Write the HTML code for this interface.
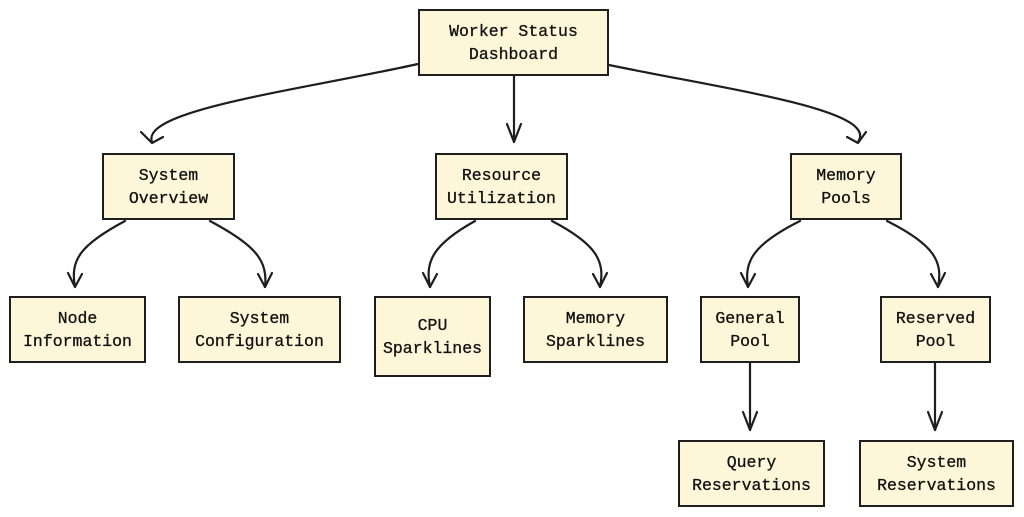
<!DOCTYPE html>
<html><head><meta charset="utf-8"><style>
body{margin:0;background:#fff;width:1024px;height:517px;overflow:hidden}
.b{position:absolute;background:#fdf6d8;border:2px solid #1e1e1e;box-sizing:border-box;display:flex;align-items:center;justify-content:center;text-align:center;font-family:"Liberation Mono",monospace;font-size:16.5px;line-height:23px;color:#111;-webkit-text-stroke:0.3px #111}
svg{position:absolute;left:0;top:0}
</style></head><body>
<svg width="1024" height="517" fill="none" stroke="#1e1e1e" stroke-width="2.2" stroke-linecap="round" stroke-linejoin="round">
<path d="M418 64 C300 90 140 110 152 142"/><path d="M141 132 L152 143 L163 137"/>
<path d="M514 76 L514 142"/><path d="M507 124 L514 142 L521 124"/>
<path d="M609 65 C730 90 880 110 858 142"/><path d="M847 137 L858 143 L866 132"/>
<path d="M125 221 C80 245 70 260 75 287"/><path d="M68 273 L75 287 L82 274"/>
<path d="M210 221 C255 245 268 260 265 287"/><path d="M258 274 L265 287 L272 273"/>
<path d="M475 221 C432 245 425 262 430 287"/><path d="M423 273 L430 287 L437 274"/>
<path d="M552 221 C598 245 605 262 600 287"/><path d="M593 274 L600 287 L607 273"/>
<path d="M800 221 C752 245 744 262 748 287"/><path d="M741 273 L748 287 L755 274"/>
<path d="M887 221 C935 245 943 262 938 287"/><path d="M931 274 L938 287 L945 273"/>
<path d="M750 363 L750 430"/><path d="M743 412 L750 430 L757 412"/>
<path d="M935 363 L935 430"/><path d="M928 412 L935 430 L942 412"/>
</svg>
<div class="b" style="left:418px;top:9px;width:191px;height:67px">Worker Status<br>Dashboard</div>
<div class="b" style="left:102px;top:153px;width:133px;height:67px">System<br>Overview</div>
<div class="b" style="left:435px;top:153px;width:133px;height:67px">Resource<br>Utilization</div>
<div class="b" style="left:790px;top:153px;width:112px;height:67px">Memory<br>Pools</div>
<div class="b" style="left:9px;top:296px;width:137px;height:67px">Node<br>Information</div>
<div class="b" style="left:178px;top:296px;width:163px;height:67px">System<br>Configuration</div>
<div class="b" style="left:374px;top:296px;width:117px;height:81px">CPU<br>Sparklines</div>
<div class="b" style="left:523px;top:296px;width:145px;height:67px">Memory<br>Sparklines</div>
<div class="b" style="left:700px;top:296px;width:100px;height:67px">General<br>Pool</div>
<div class="b" style="left:880px;top:296px;width:111px;height:67px">Reserved<br>Pool</div>
<div class="b" style="left:678px;top:440px;width:147px;height:67px">Query<br>Reservations</div>
<div class="b" style="left:859px;top:440px;width:155px;height:67px">System<br>Reservations</div>
</body></html>
